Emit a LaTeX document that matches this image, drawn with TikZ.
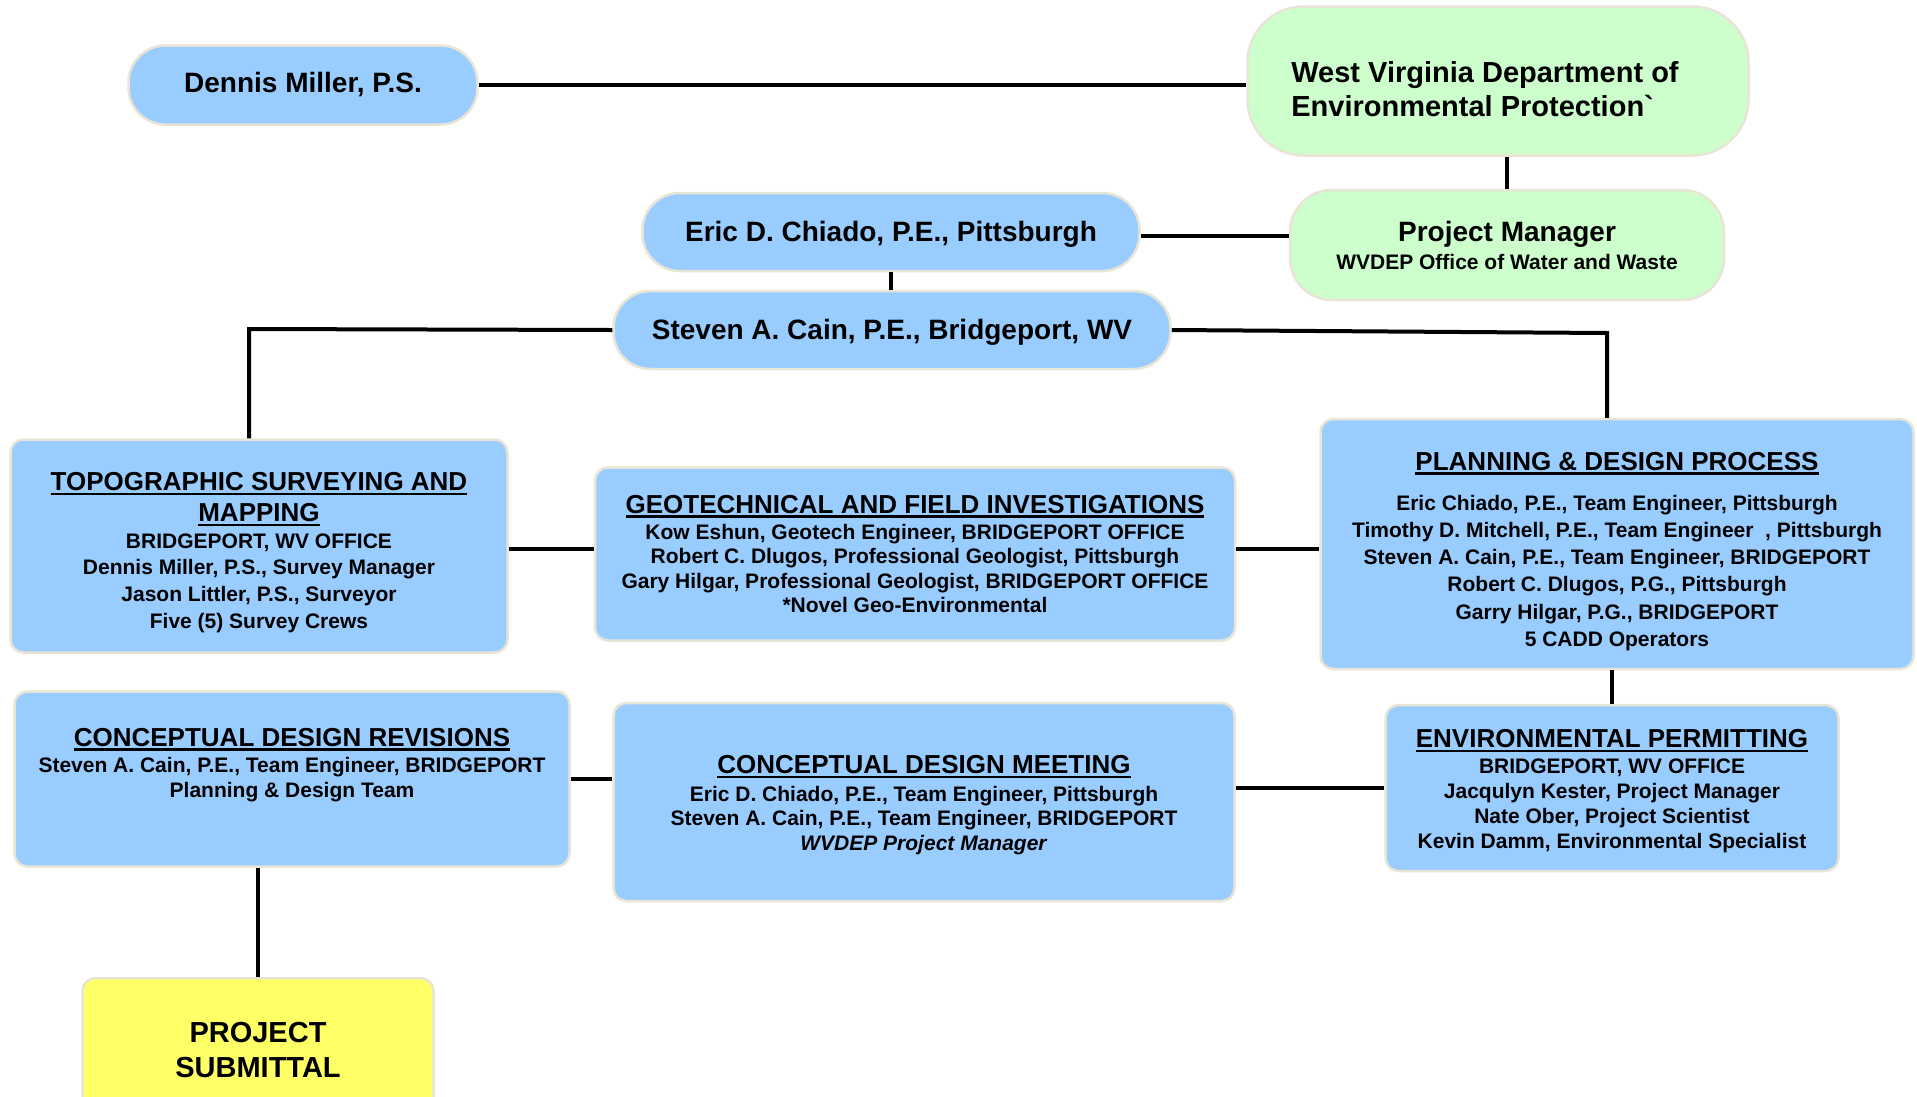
\documentclass[tikz,border=0pt]{standalone}
\usepackage{fontspec}
\setmainfont{Liberation Sans}
\definecolor{boxblue}{RGB}{153, 204, 255}
\definecolor{boxgreen}{RGB}{204, 255, 204}
\definecolor{boxyellow}{RGB}{255, 255, 102}
\definecolor{boxedge}{RGB}{233, 229, 214}
\newcommand{\boxhead}[1]{{\fontsize{26}{31}\selectfont\vtop{\hbox{#1}\kern2pt\hrule height 2.5pt}}}

\begin{document}
\begin{tikzpicture}[x=1pt, y=-1pt,
  pill/.style={draw=boxedge, line width=2.5pt, fill=boxblue, inner sep=0pt, align=center, font=\fontsize{28}{33}\selectfont\bfseries},
  team/.style={draw=boxedge, line width=2.5pt, fill=boxblue, rounded corners=13pt, inner sep=0pt, align=center, font=\fontsize{21}{25}\selectfont\bfseries},
  link/.style={line width=4pt}]
  \useasboundingbox[fill=white] (0,0) rectangle (1917,1096);

  % Top row
  \node[pill, minimum width=349pt, minimum height=79pt, rounded corners=37pt] (dennis) at (303,85) {Dennis Miller, P.S.};
  \node[pill, fill=boxgreen, minimum width=501pt, minimum height=149pt, rounded corners=56pt, align=left, font=\fontsize{29}{34}\selectfont\bfseries] (wvdep) at (1498,81) {\rule{0pt}{38pt}West Virginia Department of\kern26pt\\Environmental Protection\textasciigrave};

  % Project manager and lead engineers
  \node[pill, fill=boxgreen, minimum width=434pt, minimum height=110pt, rounded corners=42pt, font=\fontsize{21}{28}\selectfont\bfseries] (pm) at (1507,245) {{\fontsize{28}{33}\selectfont Project Manager}\\WVDEP Office of Water and Waste};
  \node[pill, minimum width=497pt, minimum height=78pt, rounded corners=37pt] (eric) at (891,232) {\rule{0pt}{25pt}Eric D. Chiado, P.E., Pittsburgh};
  \node[pill, minimum width=557pt, minimum height=78pt, rounded corners=37pt] (steven) at (892,330) {\rule{0pt}{25pt}Steven A. Cain, P.E., Bridgeport, WV};

  % Teams
  \node[team, minimum width=497pt, minimum height=213pt, font=\fontsize{21}{26.7}\selectfont\bfseries] (topo) at (259,546) {\rule{0pt}{31pt}\boxhead{TOPOGRAPHIC SURVEYING AND}\\[4.3pt]\boxhead{MAPPING}\\BRIDGEPORT, WV OFFICE\\Dennis Miller, P.S., Survey Manager\\Jason Littler, P.S., Surveyor\\Five (5) Survey Crews};
  \node[team, minimum width=640pt, minimum height=173pt, font=\fontsize{21}{24.5}\selectfont\bfseries] (geo) at (915,554) {\boxhead{GEOTECHNICAL AND FIELD INVESTIGATIONS}\\[1.5pt]Kow Eshun, Geotech Engineer, BRIDGEPORT OFFICE\\Robert C. Dlugos, Professional Geologist, Pittsburgh\\Gary Hilgar, Professional Geologist, BRIDGEPORT OFFICE\\*Novel Geo-Environmental};
  \node[team, minimum width=593pt, minimum height=250pt, font=\fontsize{21}{27.3}\selectfont\bfseries] (plan) at (1617,544) {\rule{0pt}{33pt}\boxhead{PLANNING \& DESIGN PROCESS}\\[12.7pt]Eric Chiado, P.E., Team Engineer, Pittsburgh\\Timothy D. Mitchell, P.E., Team Engineer~\ , Pittsburgh\\Steven A. Cain, P.E., Team Engineer, BRIDGEPORT\\Robert C. Dlugos, P.G., Pittsburgh\\Garry Hilgar, P.G., BRIDGEPORT\\5 CADD Operators};

  % Design stage
  \node[team, minimum width=555pt, minimum height=175pt] (rev) at (292,779) {\boxhead{CONCEPTUAL DESIGN REVISIONS}\\[1pt]Steven A. Cain, P.E., Team Engineer, BRIDGEPORT\\Planning \& Design Team\\[8pt]~};
  \node[team, minimum width=621pt, minimum height=198pt, font=\fontsize{21}{24.5}\selectfont\bfseries] (meet) at (924,802) {\rule{0pt}{24pt}\boxhead{CONCEPTUAL DESIGN MEETING}\\[3pt]Eric D. Chiado, P.E., Team Engineer, Pittsburgh\\Steven A. Cain, P.E., Team Engineer, BRIDGEPORT\\\textit{WVDEP Project Manager}};
  \node[team, minimum width=453pt, minimum height=166pt, font=\fontsize{21}{25.3}\selectfont\bfseries] (env) at (1612,788) {\rule{0pt}{25pt}\boxhead{ENVIRONMENTAL PERMITTING}\\BRIDGEPORT, WV OFFICE\\Jacqulyn Kester, Project Manager\\Nate Ober, Project Scientist\\Kevin Damm, Environmental Specialist};
  \node[team, fill=boxyellow, minimum width=351pt, minimum height=144pt, font=\fontsize{29}{35}\selectfont\bfseries] (sub) at (258,1050) {PROJECT\\SUBMITTAL};

  % Connectors
  \coordinate (topojog) at (249,329);
  \coordinate (planjog) at (1607,333);
  \draw[link] (dennis.east) -- (dennis.east -| wvdep.west);
  \draw[link] (pm.north) -- (pm.north |- wvdep.south);
  \draw[link] ([yshift=-4pt]eric.east) -- ([yshift=-4pt]eric.east -| pm.west);
  \draw[link] (eric.south) -- (eric.south |- steven.north);
  \draw[link] (steven.west) -- (topojog) -- (topojog |- topo.north);
  \draw[link] (steven.east) -- (planjog) -- (planjog |- plan.north);
  \draw[link] ([yshift=-3pt]topo.east) -- ([yshift=-3pt]topo.east -| geo.west);
  \draw[link] ([yshift=-3pt]topo.east -| geo.east) -- ([yshift=-3pt]topo.east -| plan.west);
  \draw[link] (plan.south -| env.north) -- (env.north);
  \draw[link] (rev.east) -- (rev.east -| meet.west);
  \draw[link] (env.west -| meet.east) -- (env.west);
  \draw[link] (sub.north) -- (sub.north |- rev.south);
\end{tikzpicture}
\end{document}
